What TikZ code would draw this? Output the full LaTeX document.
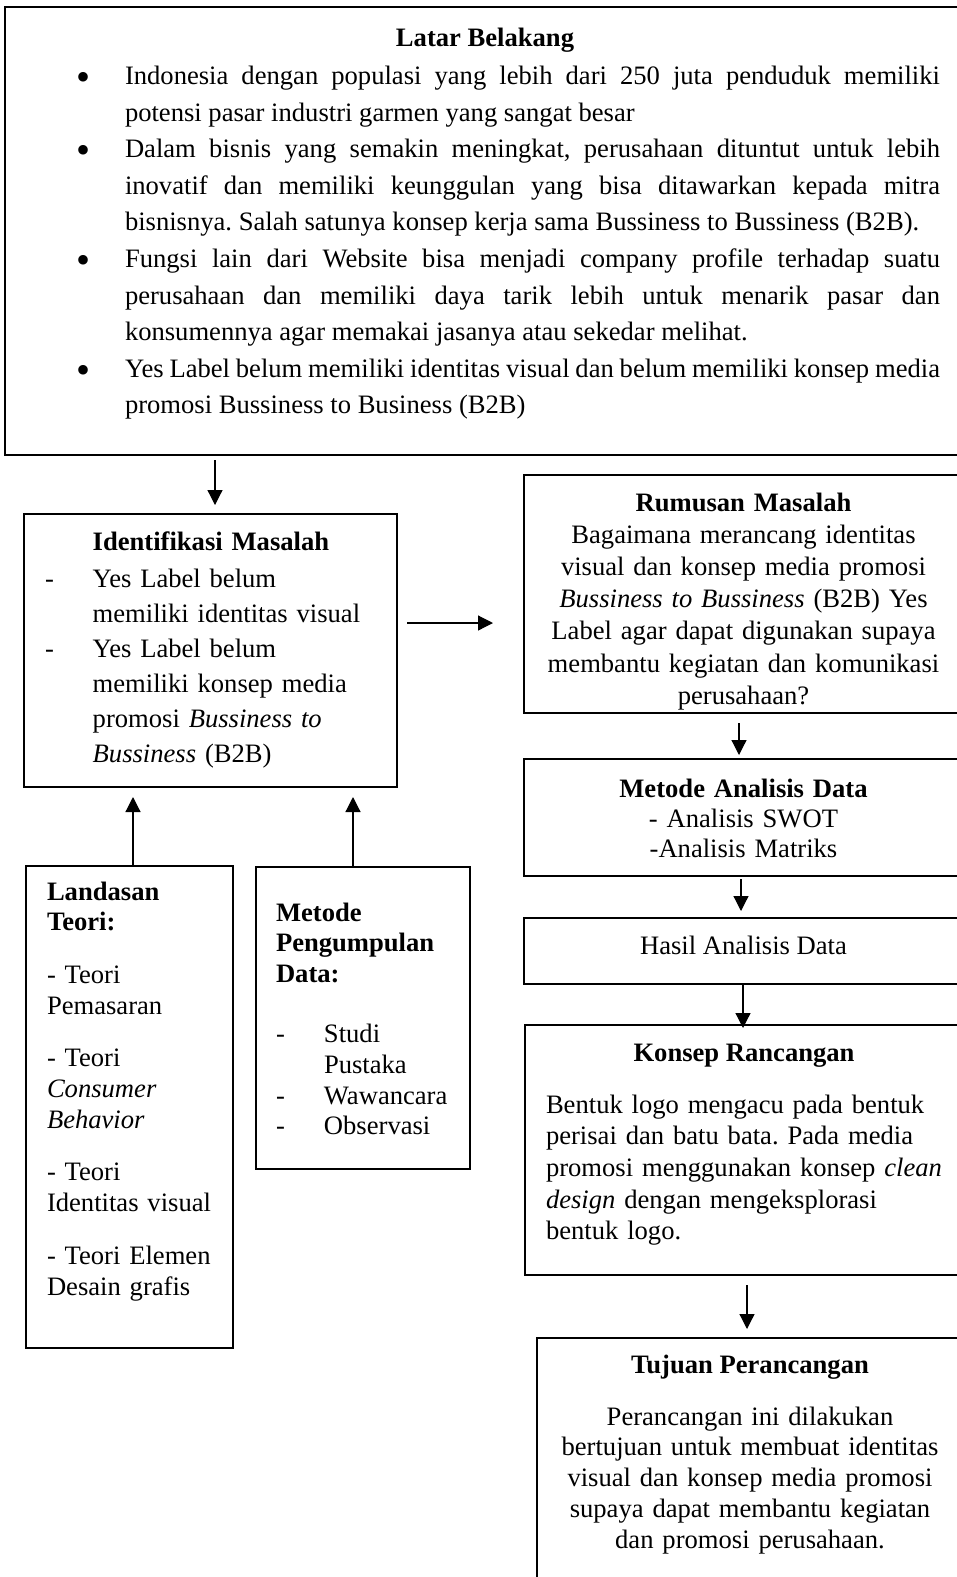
\documentclass[tikz,border=0pt]{standalone}
\usepackage{fontspec}
\setmainfont{Liberation Serif}
\usetikzlibrary{arrows.meta}
\frenchspacing

\newcommand{\fs}[1]{\fontsize{26.6}{#1}\selectfont}
\newcommand{\bul}{\hangindent=48.5pt\hangafter=1\noindent\makebox[48.5pt][l]{\hspace*{-0.5pt}\raisebox{-6pt}{\fontsize{40}{40}\selectfont\textbullet}}}
\newcommand{\dsh}[1]{\par\hangindent=#1\hangafter=1\noindent\makebox[#1][l]{-}}

\tikzset{
	box/.style = {draw, line width = 1.2pt, inner sep = 0pt, outer sep = 0pt, anchor = north west},
	txt/.style = {inner sep = 0pt, outer sep = 0pt, font = \fs{30.5}},
	arr/.style = {line width = 1.2pt, -{Triangle[length = 15pt, width = 15pt]}}
}

\begin{document}
\begin{tikzpicture}[x = 1pt, y = -1pt]
	\useasboundingbox (0,0) rectangle (956,1577);
	\node[box, minimum width = 960pt, minimum height = 448pt] (latar) at (5,7) {};
	\node[box, minimum width = 373pt, minimum height = 273pt] (idmasalah) at (24,514) {};
	\node[box, minimum width = 439pt, minimum height = 238pt] (rumusan) at (524,475) {};
	\node[box, minimum width = 439pt, minimum height = 117pt] (metanalisis) at (524,759) {};
	\node[box, minimum width = 439pt, minimum height = 66pt] (hasil) at (524,918) {};
	\node[box, minimum width = 438pt, minimum height = 250pt] (konsep) at (525,1025) {};
	\node[box, minimum width = 426pt, minimum height = 300pt] (tujuan) at (537,1338) {};
	\node[box, minimum width = 207pt, minimum height = 482pt] (landasan) at (26,866) {};
	\node[box, minimum width = 214pt, minimum height = 302pt] (metkumpul) at (256,867) {};

	\node[txt, anchor = base] (latarjudul) at (485,46) {\textbf{Latar Belakang}};
	\node[txt, anchor = base west, text width = 863.5pt, align = justify, font = \fs{36.6}] (latarisi) at (76.5,84.5) {%
		\bul Indonesia dengan populasi yang lebih dari 250 juta penduduk memiliki\linebreak potensi pasar industri garmen yang sangat besar\par
		\bul Dalam bisnis yang semakin meningkat, perusahaan dituntut untuk lebih\linebreak inovatif dan memiliki keunggulan yang bisa ditawarkan kepada mitra\linebreak bisnisnya. Salah satunya konsep kerja sama Bussiness to Bussiness (B2B).\par
		\bul Fungsi lain dari Website bisa menjadi company profile terhadap suatu\linebreak perusahaan dan memiliki daya tarik lebih untuk menarik pasar dan\linebreak konsumennya agar memakai jasanya atau sekedar melihat.\par
		\bul Yes Label belum memiliki identitas visual dan belum memiliki konsep media\linebreak promosi Bussiness to Business (B2B)\par};

	\node[txt, anchor = base west, text width = 345pt, align = left, font = \fs{35}] (idisi) at (45,550) {%
		\hspace*{47.7pt}\textbf{Identifikasi Masalah}\\[2pt]
		\dsh{47.7pt}Yes Label belum\newline memiliki identitas visual
		\dsh{47.7pt}Yes Label belum\newline memiliki konsep media\newline promosi \textit{Bussiness to}\newline \textit{Bussiness} (B2B)\par};

	\node[txt, anchor = base, text width = 430pt, align = center, font = \fs{32.2}] (rumisi) at (743.5,511) {%
		\textbf{Rumusan Masalah}\\
		Bagaimana merancang identitas\\
		visual dan konsep media promosi\\
		\textit{Bussiness to Bussiness} (B2B) Yes\\
		Label agar dapat digunakan supaya\\
		membantu kegiatan dan komunikasi\\
		perusahaan?};

	\node[txt, anchor = base, text width = 430pt, align = center, font = \fs{30}] (anaisi) at (743.5,797) {%
		\textbf{Metode Analisis Data}\\
		- Analisis SWOT\\
		-Analisis Matriks};

	\node[txt, anchor = base] (hasilisi) at (743.5,954) {Hasil Analisis Data};

	\node[txt, anchor = base] (konsepjudul) at (744,1061) {\textbf{Konsep Rancangan}};
	\node[txt, anchor = base west, text width = 415pt, align = left, font = \fs{31.7}] (konsepisi) at (546,1113) {%
		Bentuk logo mengacu pada bentuk\\
		perisai dan batu bata. Pada media\\
		promosi menggunakan konsep \textit{clean}\\
		\textit{design} dengan mengeksplorasi\\
		bentuk logo.};

	\node[txt, anchor = base] (tujuanjudul) at (750,1373) {\textbf{Tujuan Perancangan}};
	\node[txt, anchor = base, text width = 420pt, align = center, font = \fs{30.9}] (tujuanisi) at (750,1425) {%
		Perancangan ini dilakukan\\
		bertujuan untuk membuat identitas\\
		visual dan konsep media promosi\\
		supaya dapat membantu kegiatan\\
		dan promosi perusahaan.};

	\node[txt, anchor = base west, text width = 180pt, align = left, font = \fs{30.7}] (landasanisi) at (47,900) {%
		\textbf{Landasan}\\
		\textbf{Teori:}\\[22pt]
		- Teori\\
		Pemasaran\\[22pt]
		- Teori\\
		\textit{Consumer}\\
		\textit{Behavior}\\[22pt]
		- Teori\\
		Identitas visual\\[22pt]
		- Teori Elemen\\
		Desain grafis};

	\node[txt, anchor = base west, text width = 185pt, align = left, font = \fs{30.8}] (metkumpulisi) at (276,921) {%
		\textbf{Metode}\\
		\textbf{Pengumpulan}\\
		\textbf{Data:}\\[29pt]
		\dsh{48pt}Studi\newline Pustaka
		\dsh{48pt}Wawancara
		\dsh{48pt}Observasi\par};

	\draw[arr, shorten <= 5pt, shorten >= 9pt] ([xshift = 4.5pt]idmasalah.north |- latar.south) -- ([xshift = 4.5pt]idmasalah.north);
	\draw[arr, shorten <= 10pt, shorten >= 31pt] ([yshift = 27.5pt]idmasalah.east) -- ([yshift = 27.5pt]idmasalah.east -| rumusan.west);
	\draw[arr, shorten >= 10pt] ([xshift = 3.5pt]landasan.north) -- ([xshift = 3.5pt]landasan.north |- idmasalah.south);
	\draw[arr, shorten >= 10pt] ([xshift = -10pt]metkumpul.north) -- ([xshift = -10pt]metkumpul.north |- idmasalah.south);
	\foreach \a/\b/\dx/\sa/\sb in {rumusan/metanalisis/-4.5/10/4, metanalisis/hasil/-2.5/3/7, hasil/konsep/-0.5/0/-3, konsep/tujuan/3/10/9}{
		\draw[arr, shorten <= \sa pt, shorten >= \sb pt] ([xshift = \dx pt]\a.south) -- ([xshift = \dx pt]\a.south |- \b.north);}
\end{tikzpicture}
\end{document}
